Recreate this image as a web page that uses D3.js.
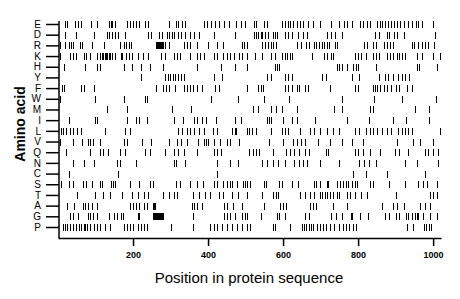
<!DOCTYPE html>
<html>
<head>
<meta charset="utf-8">
<script src="https://cdn.jsdelivr.net/npm/d3@7"></script>
<style>
  body { margin: 0; background: #fff; }
  svg { display: block; font-family: "Liberation Sans", Arial, sans-serif; }
</style>
</head>
<body>
<svg id="chart" width="460" height="299"></svg>
<script>
// residue positions per amino acid
const aminoAcids = ["E","D","R","K","H","Y","F","W","M","I","L","V","Q","N","C","S","T","A","G","P"];
const xTicks = [200, 400, 600, 800, 1000];
const seqLength = 1021;

const posE = [19,25,46,53,61,87,103,135,140,145,151,185,192,201,208,216,232,239,296,314,321,330,339,390,397,407,419,430,443,456,474,487,499,522,529,549,556,596,605,612,618,627,636,645,654,667,679,698,729,750,762,771,785,805,812,823,832,851,858,865,873,881,887,896,905,912,923,932,943,954,961,970,999];
const posD = [19,48,95,130,137,144,152,159,179,241,247,268,277,290,296,303,310,319,327,339,352,363,375,415,472,522,528,534,540,545,552,561,572,578,585,605,614,623,641,652,663,716,727,738,756,845,857,876,883,896,903,922,1005];
const posR = [6,19,28,34,41,59,63,90,123,166,176,182,188,194,260,261,262,263,264,265,266,267,268,269,270,271,272,273,274,275,276,277,279,286,295,335,344,352,370,401,424,441,490,496,505,543,552,561,567,574,581,636,647,661,670,682,689,697,703,709,716,723,738,745,816,823,841,849,869,878,885,892,943,949,961,970,978,987,1002];
const posK = [6,32,39,48,68,75,84,103,111,117,121,124,127,130,135,139,143,152,168,171,182,188,197,212,226,241,274,286,310,317,326,352,370,379,390,415,425,441,450,459,468,483,491,505,525,543,569,578,596,605,611,618,625,676,709,718,727,734,792,801,809,821,839,848,857,876,885,894,903,910,918,925,956,970,1001,1018];
const posH = [16,72,105,112,176,197,221,244,281,370,434,472,505,578,585,590,743,750,756,770,787,794,801,849,956,963,1010];
const posY = [221,286,292,299,306,312,319,327,335,415,437,556,569,605,614,625,703,714,785,803,857,872,881,892,907,916,925,937];
const posF = [10,16,61,68,95,262,281,288,297,312,335,344,352,361,370,383,419,428,505,534,540,547,605,614,623,636,643,658,667,725,792,801,839,845,851,858,869,878,887,901,910,931,945];
const posW = [4,99,176,231,237,407,481,549,617,756,842,916,1008];
const posM = [130,183,303,354,519,534,569,581,596,638,736,756,832,841,952,990];
const posI = [28,99,105,183,208,215,237,310,333,363,370,383,395,422,472,487,558,563,569,601,625,638,685,771,830,894,928,990];
const posL = [7,13,22,31,41,50,61,126,179,192,321,330,344,352,363,375,388,413,424,464,471,475,505,510,516,528,567,596,605,614,645,672,682,698,716,732,750,792,803,821,832,841,851,863,876,889,907,916,925,934,943,1018];
const posV = [6,41,63,79,84,93,112,176,185,223,247,295,317,327,345,372,390,395,401,416,432,450,459,483,563,601,627,636,647,658,694,725,756,783,812,903,947,965,999];
const posQ = [22,84,112,119,132,166,179,232,244,286,310,321,335,370,416,424,434,510,519,528,537,572,609,618,629,643,658,670,714,721,792,801,812,832,858,898,910,934,978,987,999,1014];
const posN = [39,68,95,157,164,208,308,315,339,424,459,481,545,558,574,587,605,629,643,652,665,698,750,803,816,830,849,925,956,1014];
const posC = [28,161,424,787,821,876,978];
const posS = [7,28,41,66,75,90,111,117,141,146,152,192,215,246,253,315,324,352,370,386,415,424,441,450,459,464,477,492,498,505,512,549,554,590,596,623,641,682,689,698,718,721,745,752,761,768,774,783,792,798,832,841,883,925,961,974,983,1010];
const posT = [50,99,119,139,170,197,212,228,241,280,295,308,317,361,375,392,406,428,441,464,481,505,545,572,581,587,645,658,672,682,698,705,712,718,725,732,743,750,770,778,792,809,823,901,992,1001,1011];
const posA = [25,43,66,72,79,90,103,192,201,208,217,228,237,253,256,259,357,363,370,383,443,450,466,490,549,592,599,608,672,679,688,732,770,863,894,903,922,965,978,992];
const posG = [32,39,52,79,84,93,103,137,148,157,167,173,212,217,253,254,255,256,257,258,259,260,261,262,263,264,265,266,267,268,269,270,271,272,273,274,275,276,277,280,359,443,450,459,472,490,499,505,540,583,590,605,658,670,727,741,756,780,785,805,827,872,883,901,910,928,934,943,952,956,961,972,993,1010];
const posP = [13,19,25,31,39,48,55,61,68,72,77,84,96,103,112,126,139,175,183,192,201,212,221,230,237,301,361,406,415,424,437,450,464,477,490,503,512,573,579,619,650,656,662,668,674,681,690,699,706,715,724,736,748,760,768,777,786,795,930,946,975,982,988,994];

const positions = {
  E: posE, D: posD, R: posR, K: posK, H: posH, Y: posY, F: posF, W: posW, M: posM, I: posI,
  L: posL, V: posV, Q: posQ, N: posN, C: posC, S: posS, T: posT, A: posA, G: posG, P: posP
};

const margin = { top: 24, right: 19, bottom: 61, left: 58 };
const width = 460, height = 299;
const plotBottom = 238;

const x = d3.scaleLinear()
  .domain([0, seqLength])
  .range([margin.left, width - margin.right]);

const y = d3.scalePoint()
  .domain(aminoAcids)
  .range([24, 227]);

const svg = d3.select("#chart");

// one flat list of marks
const marks = [];
aminoAcids.forEach(aa => positions[aa].forEach(p => marks.push({ aa, p })));

svg.append("g")
  .selectAll("line")
  .data(marks)
  .join("line")
  .attr("x1", d => Math.round(x(d.p)) + 0.5)
  .attr("x2", d => Math.round(x(d.p)) + 0.5)
  .attr("y1", d => y(d.aa) - 3)
  .attr("y2", d => y(d.aa) + 4)
  .attr("stroke", "#000")
  .attr("stroke-width", 1)
  .attr("shape-rendering", "crispEdges");

// y axis
const yAxis = svg.append("g")
  .attr("transform", `translate(${margin.left + 1},0)`)
  .call(d3.axisLeft(y).tickSize(13).tickSizeOuter(0).tickPadding(5));
yAxis.select(".domain").remove();
yAxis.selectAll(".tick line").attr("stroke", "#000").attr("stroke-width", 1.5);
yAxis.selectAll(".tick text")
  .attr("fill", "#000")
  .style("font-size", "10px");
yAxis.append("line")
  .attr("x1", 0).attr("x2", 0)
  .attr("y1", y.range()[0] - 3)
  .attr("y2", plotBottom)
  .attr("stroke", "#000")
  .attr("stroke-width", 1.5);

// x axis
const xAxis = svg.append("g")
  .attr("transform", `translate(0,${plotBottom})`)
  .call(d3.axisBottom(x).tickValues(xTicks).tickFormat(d3.format("d"))
    .tickSize(8).tickSizeOuter(0).tickPadding(6));
xAxis.select(".domain").attr("stroke", "#000").attr("stroke-width", 1.5);
xAxis.selectAll(".tick line").attr("stroke", "#000").attr("stroke-width", 1.5);
xAxis.selectAll(".tick text")
  .attr("fill", "#000")
  .style("font-size", "9px")
  .style("font-weight", "bold");

svg.append("text")
  .attr("x", 249)
  .attr("y", 283)
  .attr("text-anchor", "middle")
  .style("font-size", "15px")
  .text("Position in protein sequence");

svg.append("text")
  .attr("transform", `translate(25,124) rotate(-90)`)
  .attr("text-anchor", "middle")
  .style("font-size", "14px")
  .style("font-weight", "bold")
  .text("Amino acid");
</script>
</body>
</html>
